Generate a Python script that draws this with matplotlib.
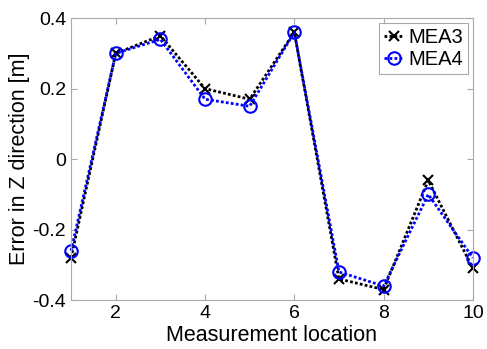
import matplotlib
matplotlib.use('Agg')
import matplotlib.pyplot as plt

# Measurement locations and errors in Z direction [m]
locations = [1, 2, 3, 4, 5, 6, 7, 8, 9, 10]
mea3 = [-0.28, 0.30, 0.35, 0.20, 0.17, 0.36, -0.34, -0.37, -0.06, -0.31]
mea4 = [-0.26, 0.30, 0.34, 0.17, 0.15, 0.36, -0.32, -0.36, -0.10, -0.28]

plt.rcParams['font.family'] = ['Liberation Sans', 'DejaVu Sans']

fig = plt.figure(figsize=(4.87, 3.49), dpi=100)
ax = fig.add_axes([0.146, 0.140, 0.825, 0.808])

dots = (0, (1, 0.8))
ax.plot(locations, mea3, color='black', linestyle=dots, linewidth=2,
        marker='x', markersize=6.5, markeredgewidth=1.5, label='MEA3',
        clip_on=False)
ax.plot(locations, mea4, color='blue', linestyle=dots, linewidth=2,
        marker='o', markersize=9, markerfacecolor='none', markeredgewidth=1.5,
        label='MEA4', clip_on=False)

ax.set_xlim(1, 10)
ax.set_ylim(-0.4, 0.4)
ax.set_xticks([2, 4, 6, 8, 10])
ax.set_yticks([-0.4, -0.2, 0, 0.2, 0.4])
ax.set_yticklabels(['-0.4', '-0.2', '0', '0.2', '0.4'])
ax.tick_params(direction='in', top=True, right=True, labelsize=14,
               color='#aaaaaa', length=4)
for s in ax.spines.values():
    s.set_color('#aaaaaa')

ax.set_xlabel('Measurement location', fontsize=15.5, labelpad=2)
ax.set_ylabel('Error in Z direction [m]', fontsize=15.5, labelpad=2)

leg = ax.legend(loc='upper right', fontsize=14.5, handlelength=1.0,
                handletextpad=0.2, borderpad=0.25, labelspacing=0.15,
                fancybox=False, framealpha=1, borderaxespad=0.25)
leg.get_frame().set_edgecolor('#aaaaaa')
leg.get_frame().set_linewidth(0.8)

fig.savefig('out.png', dpi=100)
